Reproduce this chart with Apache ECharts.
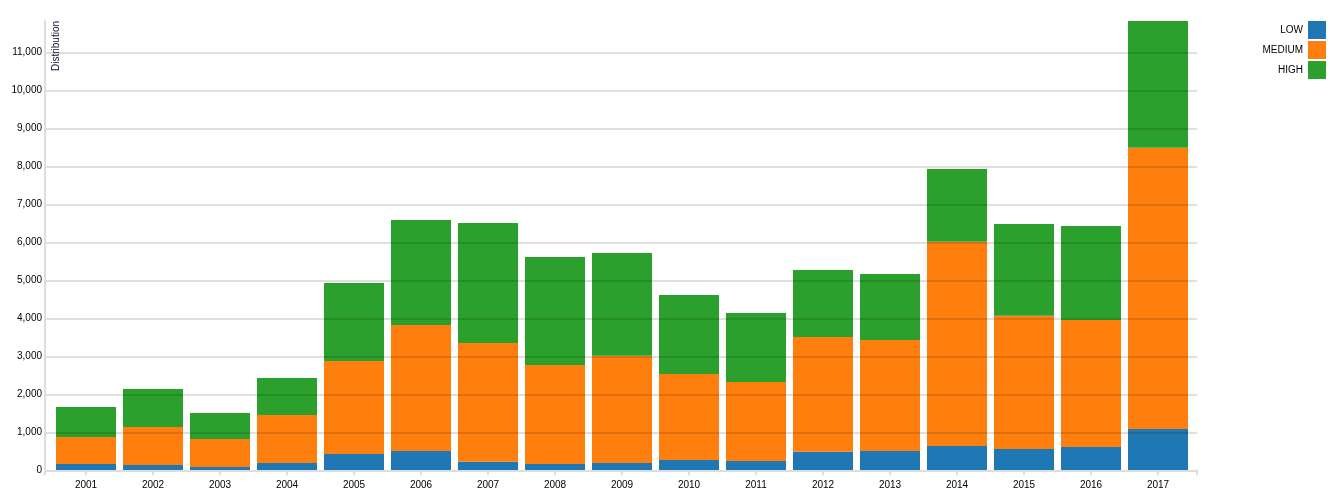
<!DOCTYPE html>
<html>
<head>
<meta charset="utf-8">
<script src="https://cdn.jsdelivr.net/npm/echarts@6/dist/echarts.min.js"></script>
<style>
html,body{margin:0;padding:0;background:#fff;}
#chart{width:1339px;height:497px;}
</style>
</head>
<body>
<div id="chart"></div>
<script>
const years = ['2001','2002','2003','2004','2005','2006','2007','2008','2009','2010','2011','2012','2013','2014','2015','2016','2017'];
const low    = [166, 140, 87, 192, 429, 508, 226, 166, 192, 271, 245, 490, 508, 639, 560, 613, 1087];
const medium = [710, 1000, 737, 1263, 2447, 3316, 3124, 2605, 2824, 2263, 2079, 3018, 2921, 5377, 3508, 3342, 7403];
const high   = [790, 1000, 684, 975, 2053, 2763, 3158, 2842, 2702, 2079, 1815, 1763, 1737, 1913, 2414, 2474, 3334];
const seriesNames = ['LOW', 'MEDIUM', 'HIGH'];
const colors = ['#1f77b4', '#ff7f0e', '#2ca02c'];
const yTitle = 'Distribution';

const totals = years.map((_, i) => low[i] + medium[i] + high[i]);
const yMax = Math.max.apply(null, totals);
const font = 'Arial, "Liberation Sans", sans-serif';

const chart = echarts.init(document.getElementById('chart'), null, {renderer: 'canvas'});
const dataSets = [low, medium, high];

chart.setOption({
  animation: false,
  backgroundColor: '#fff',
  textStyle: {fontFamily: font},
  legend: {
    data: seriesNames,
    orient: 'vertical',
    right: 13,
    top: 21,
    padding: 0,
    itemGap: 2,
    itemWidth: 18,
    itemHeight: 18,
    align: 'right',
    icon: 'rect',
    selectedMode: false,
    textStyle: {fontSize: 10, color: '#000', fontFamily: font}
  },
  grid: [
    {left: 45, right: 142, top: 21, bottom: 26.7, outerBoundsMode: 'none'},
    {left: 52.5, right: 147.5, top: 21, bottom: 26.7, outerBoundsMode: 'none'}
  ],
  xAxis: [
    {
      gridIndex: 0, type: 'value', min: 0, max: 1, interval: 1, z: 3,
      axisLine: {show: true, lineStyle: {color: '#dddddd', width: 2}},
      axisTick: {show: true, length: 5, lineStyle: {color: '#dddddd', width: 2}},
      axisLabel: {show: false},
      splitLine: {show: false}
    },
    {
      gridIndex: 1, type: 'category', data: years, z: 3,
      axisLine: {show: false},
      axisTick: {show: true, alignWithLabel: true, length: 5, lineStyle: {color: '#dddddd', width: 2}},
      axisLabel: {show: true, fontSize: 10, color: '#000', margin: 9.5, fontFamily: font},
      splitLine: {show: false}
    }
  ],
  yAxis: [
    {
      gridIndex: 0, type: 'value', min: 0, max: yMax, interval: 1000, z: 3,
      axisLine: {show: true, lineStyle: {color: '#dddddd', width: 2}},
      axisTick: {show: false},
      axisLabel: {
        show: true, fontSize: 10, color: '#000', margin: 3, fontFamily: font,
        showMaxLabel: false,
        formatter: v => (v % 1000 === 0 ? v.toLocaleString('en-US') : '')
      },
      splitLine: {show: true, showMaxLine: false, showMinLine: false, lineStyle: {color: 'rgba(0,0,0,0.17)', width: 1.5}}
    },
    {
      gridIndex: 1, type: 'value', min: 0, max: yMax, show: false,
      splitLine: {show: false}
    }
  ],
  graphic: [
    {
      type: 'text', left: 51.5, top: 21, rotation: Math.PI / 2, z: 10,
      style: {text: yTitle, fontSize: 10, fill: '#1a0a2a', fontFamily: font}
    }
  ],
  series: seriesNames.map((name, k) => ({
    name: name,
    type: 'bar',
    stack: 'total',
    xAxisIndex: 1,
    yAxisIndex: 1,
    barCategoryGap: '10.4%',
    itemStyle: {color: colors[k]},
    emphasis: {disabled: true},
    data: dataSets[k]
  }))
});
</script>
</body>
</html>
